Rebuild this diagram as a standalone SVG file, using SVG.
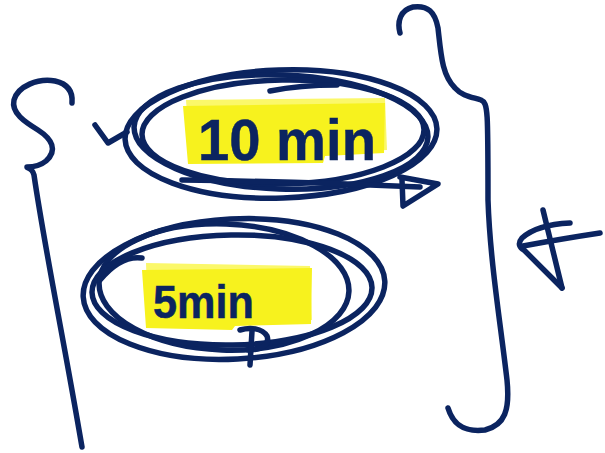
<svg xmlns="http://www.w3.org/2000/svg" width="605" height="453" viewBox="0 0 605 453">
<style>
.s{fill:none;stroke:#0b2460;stroke-width:5.5;stroke-linecap:round;stroke-linejoin:round}
.t{fill:#0b2460;font-family:"Liberation Sans",Arial,sans-serif;font-weight:bold;stroke:#0b2460;stroke-width:0.5}
.hl{fill:#f7f21e}
.hl2{fill:#fbf86a}
</style>
<rect width="605" height="453" fill="#ffffff"/>
<g id="left-brace">
<path class="s" d="M72,103 C73,92 68,84 55,81 C38,78 18,86 14,100 C11,113 25,122 38,130 C52,139 58,150 46,161 C40,166 32,167 27,167"/>
<path class="s" d="M28,168 C31,169 33,171 34,175 C45,250 62,330 82,447"/>
</g>
<g id="node-10min">
<path class="hl2" d="M186,100 L385,98 L387,150 L190,158 Z"/>
<path class="hl" d="M183,106 L385,103 L384,153 L325,156 L323,163 L188,164 Z"/>
<ellipse class="s" cx="281" cy="134" rx="156" ry="64" transform="rotate(-2 281 134)"/>
<ellipse class="s" cx="281" cy="132" rx="147" ry="57" transform="rotate(2 281 132)"/>
<ellipse class="s" cx="283" cy="132" rx="141" ry="52" transform="rotate(-1 283 132)"/>
<path class="s" d="M270,91 C290,87 315,85 337,85"/>
<path class="s" d="M95,125 L108,143 L127,132"/>
<path class="s" d="M182,180 C260,181 350,184 420,187"/>
<path class="s" d="M400,177 L438,184 L403,206 L402,180"/>
<text class="t" x="198" y="160" font-size="58" textLength="178" lengthAdjust="spacingAndGlyphs">10 min</text>
</g>
<g id="node-5min">
<path class="hl2" d="M146,263 L310,266 L312,320 L148,322 Z"/>
<path class="hl" d="M142,270 L312,268 L311,324 L235,326 L232,330 L146,328 Z"/>
<ellipse class="s" cx="234" cy="289" rx="151" ry="70" transform="rotate(-3 234 289)"/>
<ellipse class="s" cx="224" cy="287" rx="125" ry="63" transform="rotate(2 224 287)"/>
<ellipse class="s" cx="232" cy="290" rx="140" ry="55" transform="rotate(-1 232 290)"/>
<path class="s" d="M100,280 C115,262 128,256 142,258"/>
<path class="s" d="M240,330 C250,327 262,328 267,336 C270,344 262,350 248,350"/>
<path class="s" d="M252,331 L250,365"/>
<text class="t" x="153" y="318" font-size="46" textLength="101" lengthAdjust="spacingAndGlyphs">5min</text>
</g>
<g id="right-brace">
<path class="s" d="M400,33 C397,22 400,10 413,7 C428,5 435,12 438,28 C441,55 442,75 455,88 C462,96 472,97 481,100 C488,103 488,110 488,200 C490,260 500,320 507,380 C510,410 505,425 485,430 C468,432 454,428 448,408"/>
</g>
<g id="symbol">
<path class="s" d="M543,210 L562,288"/>
<path class="s" d="M570,223 C550,224 532,229 522,238 C517,244 520,248 524,250 L562,288"/>
<path class="s" d="M523,246 C550,241 580,236 600,233"/>
</g>
</svg>
